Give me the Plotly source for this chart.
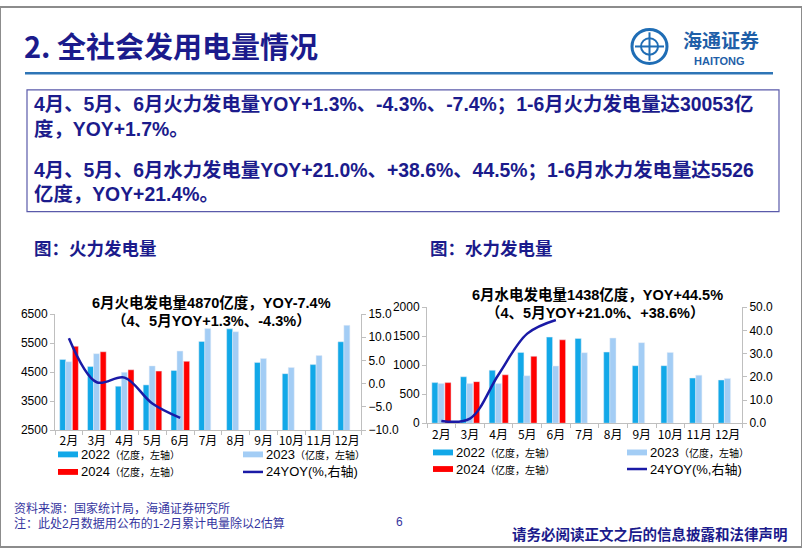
import plotly.graph_objects as go

W, H = 802, 554

months = ["2月", "3月", "4月", "5月", "6月", "7月", "8月", "9月", "10月", "11月", "12月"]
months_24 = ["2月", "3月", "4月", "5月", "6月"]

# 火力发电量 (亿度)
thermal_2022 = [4933, 4689, 4011, 4056, 4556, 5556, 5989, 4833, 4444, 4756, 5544]
thermal_2023 = [4856, 5133, 4489, 4711, 5222, 6000, 5889, 4967, 4656, 5067, 6111]
thermal_2024 = [5389, 5200, 4578, 4533, 4870]
thermal_yoy24 = [9.8, 0.3, 1.3, -4.3, -7.4]

# 水力发电量 (亿度)
hydro_2022 = [700, 801, 913, 1221, 1485, 1462, 1227, 992, 992, 779, 745]
hydro_2023 = [683, 683, 683, 818, 986, 1216, 1468, 1389, 1221, 829, 773]
hydro_2024 = [700, 717, 835, 1154, 1438]
hydro_yoy24 = [1.0, 2.0, 21.0, 38.6, 44.5]

C22 = "#12A8E8"
C23 = "#A3CDF5"
C24 = "#FF0000"
CLINE = "#1A1AA6"
NAVY = "#1B1B8C"
AXC = "#BFBFBF"
LAT = "Liberation Sans, Arial, Noto Sans CJK SC, sans-serif"
CJK = "Noto Sans CJK SC, Liberation Sans, sans-serif"
BOXF = "Liberation Sans, Noto Sans CJK SC, sans-serif"


def fx(x):
    return x / W


def fy(y):
    return 1 - y / H


BW = 0.215
OFF = {"2022": -0.33, "2023": -0.115, "2024": 0.125}

fig = go.Figure()

# left chart
fig.add_trace(go.Bar(x=months, y=thermal_2022, name="2022（亿度，左轴）", marker_color=C22,
                     width=BW, offset=OFF["2022"], xaxis="x", yaxis="y", showlegend=False))
fig.add_trace(go.Bar(x=months, y=thermal_2023, name="2023（亿度，左轴）", marker_color=C23,
                     width=BW, offset=OFF["2023"], xaxis="x", yaxis="y", showlegend=False))
fig.add_trace(go.Bar(x=months_24, y=thermal_2024, name="2024（亿度，左轴）", marker_color=C24,
                     width=BW, offset=OFF["2024"], xaxis="x", yaxis="y", showlegend=False))
fig.add_trace(go.Scatter(x=months_24, y=thermal_yoy24, name="24YOY(%,右轴)", mode="lines",
                         line=dict(color=CLINE, width=2.5, shape="spline", smoothing=1.0),
                         xaxis="x", yaxis="y2", showlegend=False))

# right chart
fig.add_trace(go.Bar(x=months, y=hydro_2022, name="2022（亿度，左轴）", marker_color=C22,
                     width=BW, offset=OFF["2022"], xaxis="x2", yaxis="y3", showlegend=False))
fig.add_trace(go.Bar(x=months, y=hydro_2023, name="2023（亿度，左轴）", marker_color=C23,
                     width=BW, offset=OFF["2023"], xaxis="x2", yaxis="y3", showlegend=False))
fig.add_trace(go.Bar(x=months_24, y=hydro_2024, name="2024（亿度，左轴）", marker_color=C24,
                     width=BW, offset=OFF["2024"], xaxis="x2", yaxis="y3", showlegend=False))
fig.add_trace(go.Scatter(x=months_24, y=hydro_yoy24, name="24YOY(%,右轴)", mode="lines",
                         line=dict(color=CLINE, width=2.5, shape="spline", smoothing=1.0),
                         xaxis="x2", yaxis="y4", showlegend=False))

xcommon = dict(type="category", categoryorder="array", categoryarray=months,
               showline=True, linecolor=AXC, linewidth=1, ticks="outside",
               tickson="boundaries", ticklen=4, tickcolor=AXC, showgrid=False, tickangle=0,
               tickfont=dict(family=CJK, size=12, color="#000"), fixedrange=True)
ycommon = dict(showline=True, linecolor=AXC, linewidth=1, ticks="outside", ticklen=4,
               tickcolor=AXC, showgrid=False, zeroline=False,
               tickfont=dict(family=LAT, size=12, color="#000"), fixedrange=True)

L_X = [fx(55), fx(361)]
L_Y = [fy(434), fy(315)]
R_X = [fx(427), fx(742)]
R_Y = [fy(427), fy(308)]

fig.update_layout(
    width=W, height=H,
    margin=dict(l=0, r=0, t=0, b=0),
    paper_bgcolor="white", plot_bgcolor="rgba(0,0,0,0)",
    barmode="overlay",
    showlegend=False,
    xaxis=dict(domain=L_X, anchor="y", **xcommon),
    yaxis=dict(domain=L_Y, anchor="x", range=[2500, 6500], dtick=1000, tick0=2500, **ycommon),
    yaxis2=dict(overlaying="y", side="right", anchor="x", range=[-10, 15], dtick=5, tick0=-10,
                tickformat=".1f", **ycommon),
    xaxis2=dict(domain=R_X, anchor="y3", **xcommon),
    yaxis3=dict(domain=R_Y, anchor="x2", range=[0, 2000], dtick=500, **ycommon),
    yaxis4=dict(overlaying="y3", side="right", anchor="x2", range=[0, 50], dtick=10,
                tickformat=".1f", **ycommon),
)

shapes = []
ann = []

# slide border
shapes.append(dict(type="rect", xref="paper", yref="paper", x0=0, x1=1, y0=0, y1=1,
                   line=dict(color="#8C8C8C", width=2)))
# title underline
shapes.append(dict(type="line", xref="paper", yref="paper", x0=fx(25), x1=fx(773),
                   y0=fy(68), y1=fy(68), line=dict(color="#2E75B6", width=2.5)))
# text box
shapes.append(dict(type="rect", xref="paper", yref="paper", x0=fx(27), x1=fx(779),
                   y0=fy(210), y1=fy(85), line=dict(color="#5A5AAA", width=1.2)))

# logo
LOGO = "#1F6DB5"
shapes.append(dict(type="circle", xref="paper", yref="paper", x0=fx(632), x1=fx(667),
                   y0=fy(58), y1=fy(23), line=dict(color=LOGO, width=3)))
shapes.append(dict(type="circle", xref="paper", yref="paper", x0=fx(641), x1=fx(658),
                   y0=fy(49), y1=fy(32), line=dict(color=LOGO, width=2)))
shapes.append(dict(type="line", xref="paper", yref="paper", x0=fx(649.5), x1=fx(649.5),
                   y0=fy(55), y1=fy(26), line=dict(color=LOGO, width=2)))
shapes.append(dict(type="line", xref="paper", yref="paper", x0=fx(635), x1=fx(664),
                   y0=fy(40.5), y1=fy(40.5), line=dict(color=LOGO, width=2)))


def text(x, y, s, size, color="#000", bold=False, family=CJK, xanchor="left", yanchor="middle"):
    if bold:
        s = "<b>" + s + "</b>"
    ann.append(dict(xref="paper", yref="paper", x=fx(x), y=fy(y), text=s, showarrow=False,
                    xanchor=xanchor, yanchor=yanchor,
                    font=dict(family=family, size=size, color=color)))


# title
text(22, 39, "2. 全社会发用电量情况", 29, NAVY, bold=True, family=CJK)
# logo text
text(681, 33, "海通证券", 19, "#1F5FA8", bold=True, family=CJK)
text(719, 55, "HAITONG", 11, "#1F5FA8", bold=True, family=LAT, xanchor="center")

# box text
BS = 19.4
text(32, 100, "4月、5月、6月火力发电量YOY+1.3%、-4.3%、-7.4%；1-6月火力发电量达30053亿", BS, NAVY, True, BOXF)
text(32, 125, "度，YOY+1.7%。", BS, NAVY, True, BOXF)
text(32, 167, "4月、5月、6月水力发电量YOY+21.0%、+38.6%、44.5%；1-6月水力发电量达5526", BS, NAVY, True, BOXF)
text(32, 192, "亿度，YOY+21.4%。", BS, NAVY, True, BOXF)

# subtitles
text(32, 247, "图：火力发电量", 17.5, NAVY, True, CJK)
text(428, 247, "图：水力发电量", 17.5, NAVY, True, CJK)

# chart titles
text(211, 303, "6月火电发电量4870亿度，YOY-7.4%", 14.5, "#000", True, BOXF, "center")
text(211, 322, "（4、5月YOY+1.3%、-4.3%）", 14.5, "#000", True, BOXF, "center")
text(597, 295, "6月水电发电量1438亿度，YOY+44.5%", 14.5, "#000", True, BOXF, "center")
text(595, 314, "（4、5月YOY+21.0%、+38.6%）", 14.5, "#000", True, BOXF, "center")


# legends
def legend(x0, y, label, sub, color, kind="bar"):
    if kind == "bar":
        shapes.append(dict(type="rect", xref="paper", yref="paper", x0=fx(x0), x1=fx(x0 + 20),
                           y0=fy(y + 3), y1=fy(y - 3), line=dict(width=0), fillcolor=color))
    else:
        shapes.append(dict(type="line", xref="paper", yref="paper", x0=fx(x0), x1=fx(x0 + 20),
                           y0=fy(y), y1=fy(y), line=dict(color=color, width=2.5)))
    s = label
    if sub:
        s += "<span style='font-size:10px'>" + sub + "</span>"
    text(x0 + 21, y, s, 13, "#000", False, BOXF)


legend(58, 459, "2022", "（亿度，左轴）", C22)
legend(243, 459, "2023", "（亿度，左轴）", C23)
legend(58, 477, "2024", "（亿度，左轴）", C24)
legend(243, 477, "24YOY(%,右轴)", "", CLINE, "line")

legend(433, 457, "2022", "（亿度，左轴）", C22)
legend(627, 457, "2023", "（亿度，左轴）", C23)
legend(433, 474, "2024", "（亿度，左轴）", C24)
legend(627, 474, "24YOY(%,右轴)", "", CLINE, "line")

# footer
text(12, 515, "资料来源：国家统计局，海通证券研究所", 12, "#3535A0", False, BOXF)
text(12, 530, "注：此处2月数据用公布的1-2月累计电量除以2估算", 12, "#3535A0", False, BOXF)
text(399, 528, "6", 12, "#3535A0", False, LAT, "center")
text(790, 540, "请务必阅读正文之后的信息披露和法律声明", 14.5, NAVY, True, CJK, "right")

fig.update_layout(shapes=shapes, annotations=ann)

fig.write_html("out.html", config={"displayModeBar": False},
               post_script="document.body.style.margin='0';document.body.style.overflow='hidden';")
